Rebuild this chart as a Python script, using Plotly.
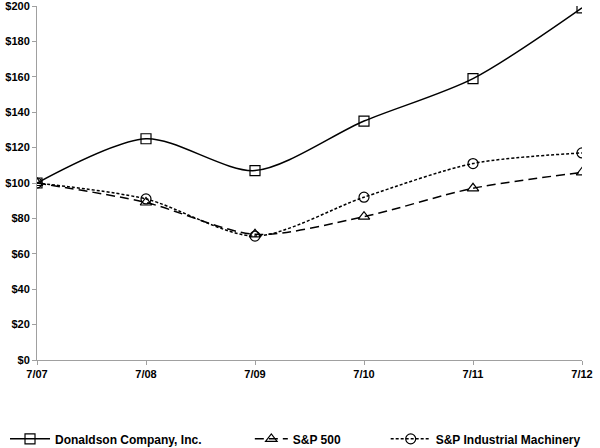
import plotly.graph_objects as go

years = ["7/07", "7/08", "7/09", "7/10", "7/11", "7/12"]
donaldson = [100, 125, 107, 135, 159, 199]
sp500 = [100, 89, 71, 81, 97, 106]
sp_ind = [100, 91, 70, 92, 111, 117]
y_ticks = [0, 20, 40, 60, 80, 100, 120, 140, 160, 180, 200]
y_labels = ["$" + str(v) for v in y_ticks]

FONT = "Liberation Sans, Arial"
xs = list(range(len(years)))

fig = go.Figure()
fig.add_trace(go.Scatter(
    x=xs, y=donaldson, name="Donaldson Company, Inc.", legend="legend",
    mode="lines+markers", line=dict(color="black", width=1.5, shape="spline", smoothing=0.8),
    marker=dict(symbol="square-open", size=10, color="black", line=dict(width=1.2))))
fig.add_trace(go.Scatter(
    x=xs, y=sp500, name="S&P 500", legend="legend2",
    mode="lines+markers", line=dict(color="black", width=1.5, shape="spline", smoothing=0.8, dash="9px,5px"),
    marker=dict(symbol="triangle-up-open", size=10, color="black", line=dict(width=1.2))))
fig.add_trace(go.Scatter(
    x=xs, y=sp_ind, name="S&P Industrial Machinery", legend="legend3",
    mode="lines+markers", line=dict(color="black", width=1.5, shape="spline", smoothing=0.8, dash="3px,2px"),
    marker=dict(symbol="circle-open", size=10, color="black", line=dict(width=1.2))))

leg_common = dict(orientation="h", xanchor="left", y=-0.2228, yanchor="middle",
                  font=dict(size=12, family=FONT, weight="bold"), bgcolor="rgba(0,0,0,0)")
fig.update_layout(
    width=600, height=448,
    margin=dict(l=37, r=17.5, t=5.5, b=88, autoexpand=False),
    plot_bgcolor="white", paper_bgcolor="white",
    font=dict(family=FONT, size=11, color="black"),
    showlegend=True,
    legend=dict(x=-0.0587, itemwidth=40, **leg_common),
    legend2=dict(x=0.3905, itemwidth=33, **leg_common),
    legend3=dict(x=0.6398, itemwidth=40, **leg_common),
)
fig.update_xaxes(
    range=[0, 5], tickmode="array", tickvals=xs, ticktext=years,
    showgrid=False, zeroline=False, showline=True, linecolor="#a0a0a0", linewidth=1,
    ticks="outside", ticklen=4, tickcolor="#a0a0a0", automargin=False,
    ticklabeloverflow="allow",
    tickfont=dict(size=11, family=FONT, weight="bold"))
fig.update_yaxes(
    range=[0, 200.01], tickmode="array", tickvals=y_ticks, ticktext=y_labels,
    showgrid=False, zeroline=False, showline=True, linecolor="#a0a0a0", linewidth=1,
    ticks="outside", ticklen=4, tickcolor="#a0a0a0", automargin=False,
    ticklabeloverflow="allow",
    tickfont=dict(size=11, family=FONT, weight="bold"))

fig.write_html("out.html", config={"displayModeBar": False},
               post_script="document.body.style.margin='0px';")
